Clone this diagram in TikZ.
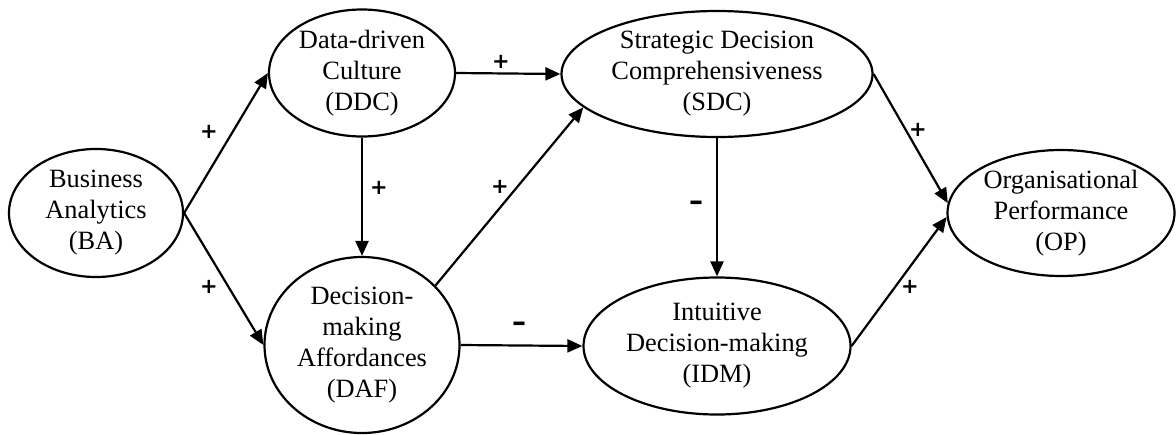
\documentclass[tikz,border=0pt]{standalone}
\usepackage{fontspec}
\setmainfont{Liberation Serif}
\newfontfamily\signfont{DejaVu Sans}
\usetikzlibrary{arrows.meta,shapes.geometric}
\begin{document}
\begin{tikzpicture}[x=0.5pt,y=-0.5pt,
  construct/.style={draw, ellipse, line width=1.1pt, inner sep=0pt, align=center,
    font=\fontsize{13.2}{15.5}\selectfont},
  link/.style={-{Triangle[length=7.5pt,width=6.5pt]}, line width=1.1pt},
  sign/.style={font=\signfont\bfseries\fontsize{10.5}{10.5}\selectfont, inner sep=0pt},
  negsign/.style={font=\signfont\bfseries\fontsize{14}{14}\selectfont, inner sep=0pt}]
\useasboundingbox (0,0) rectangle (1176,434);
\node[construct, minimum width=87pt, minimum height=64pt] (BA) at (96,213) {Business\\Analytics\\(BA)};
\node[construct, minimum width=93pt, minimum height=63.5pt] (DDC) at (362,73) {Data-driven\\Culture\\(DDC)};
\node[construct, minimum width=97.5pt, minimum height=88pt] (DAF) at (362,345) {Decision-\\making\\Affordances\\(DAF)};
\node[construct, minimum width=155.5pt, minimum height=63pt] (SDC) at (717,74) {Strategic Decision\\Comprehensiveness\\(SDC)};
\node[construct, minimum width=133.5pt, minimum height=68.5pt] (IDM) at (717,346) {Intuitive\\Decision-making\\(IDM)};
\node[construct, minimum width=113.5pt, minimum height=63pt] (OP) at (1061,213) {Organisational\\Performance\\(OP)};

\draw[link] (BA.east) -- (DDC.west);
\draw[link] (BA.east) -- (DAF.west);
\draw[link] (DDC.east) -- (SDC.west);
\draw[link] (DDC.south) -- (DAF.north);
\draw[link] (DAF.39) -- (SDC.194);
\draw[link] (DAF.east) -- (IDM.west);
\draw[link] (SDC.south) -- (IDM.north);
\draw[link] (SDC.east) -- (OP.175);
\draw[link] (IDM.east) -- (OP.182);

\node[sign] (s1) at (209,132) {+};
\node[sign] (s2) at (209,287) {+};
\node[sign] (s3) at (379,188) {+};
\node[sign] (s4) at (501,62) {+};
\node[sign] (s5) at (500,187) {+};
\node[negsign] (s6) at (696,206) {–};
\node[negsign] (s7) at (519,327) {–};
\node[sign] (s8) at (918,130) {+};
\node[sign] (s9) at (910,287) {+};
\end{tikzpicture}
\end{document}
